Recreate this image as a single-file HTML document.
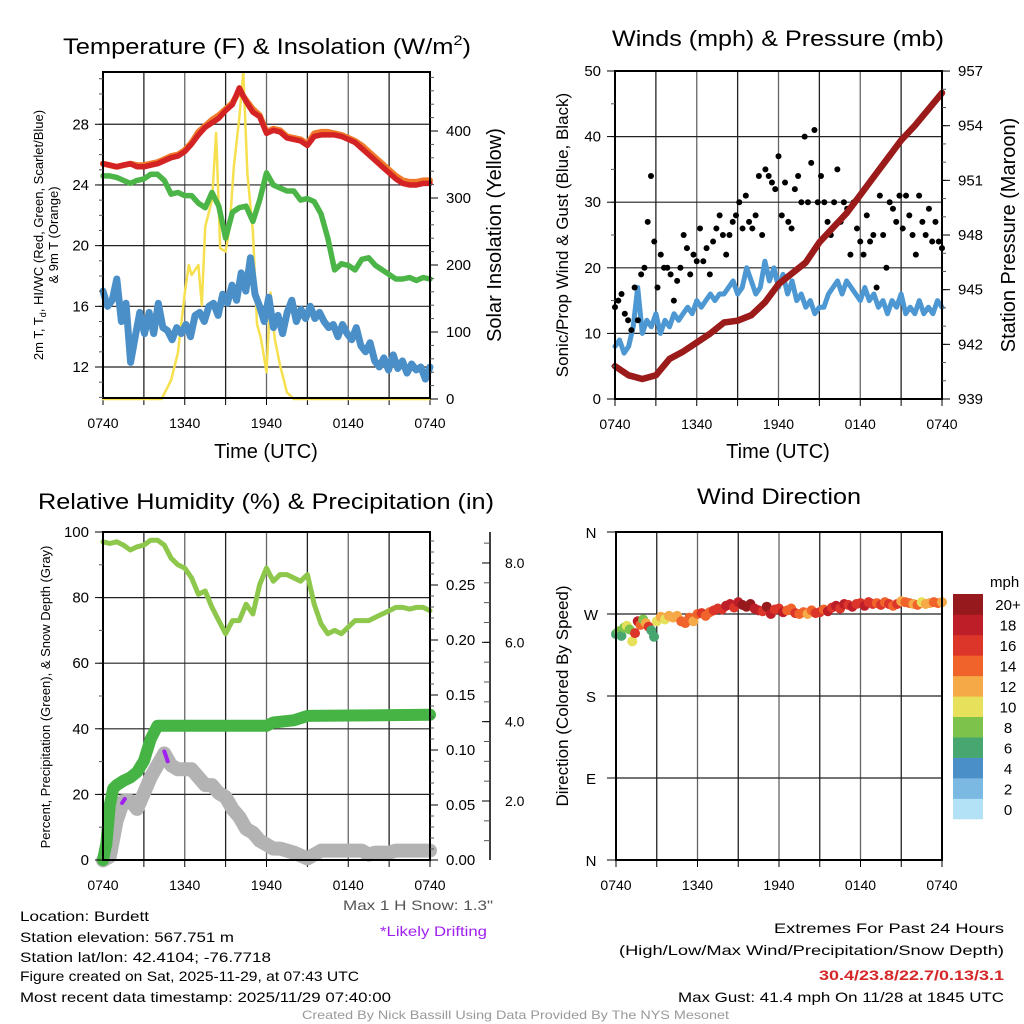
<!DOCTYPE html>
<html><head><meta charset="utf-8"><style>
html,body{margin:0;padding:0;background:#fff}
svg{display:block;font-family:"Liberation Sans",sans-serif}
</style></head><body>
<svg id="s" width="1024" height="1024" viewBox="0 0 1024 1024">
<rect width="1024" height="1024" fill="#fff"/>
<g id="g1"></g>
<g id="g2"></g>
<g id="g3"></g>
<g id="g4"></g>
<g id="txt" font-size="14">
<text x="20" y="921" textLength="129" lengthAdjust="spacingAndGlyphs">Location: Burdett</text>
<text x="20" y="942" textLength="214" lengthAdjust="spacingAndGlyphs">Station elevation: 567.751 m</text>
<text x="20" y="962" textLength="251" lengthAdjust="spacingAndGlyphs">Station lat/lon: 42.4104; -76.7718</text>
<text x="20" y="981" textLength="339" lengthAdjust="spacingAndGlyphs">Figure created on Sat, 2025-11-29, at 07:43 UTC</text>
<text x="20" y="1002" textLength="371" lengthAdjust="spacingAndGlyphs">Most recent data timestamp: 2025/11/29 07:40:00</text>
<text x="343" y="910" textLength="150" lengthAdjust="spacingAndGlyphs" fill="#555">Max 1 H Snow: 1.3"</text>
<text x="380" y="936" textLength="107" lengthAdjust="spacingAndGlyphs" fill="#a020f0">*Likely Drifting</text>
<text x="774" y="933" textLength="230" lengthAdjust="spacingAndGlyphs">Extremes For Past 24 Hours</text>
<text x="619" y="955" textLength="385" lengthAdjust="spacingAndGlyphs">(High/Low/Max Wind/Precipitation/Snow Depth)</text>
<text x="819" y="980" textLength="185" lengthAdjust="spacingAndGlyphs" fill="#d62728" font-weight="bold">30.4/23.8/22.7/0.13/3.1</text>
<text x="678" y="1002" textLength="326" lengthAdjust="spacingAndGlyphs">Max Gust: 41.4 mph On 11/28 at 1845 UTC</text>
<text x="302" y="1019" textLength="427" lengthAdjust="spacingAndGlyphs" font-size="12" fill="#999">Created By Nick Bassill Using Data Provided By The NYS Mesonet</text>
</g>
</svg>
<script>
// ---- data (hours since 0740 UTC) ----
const xTickLabels=["0740","1340","1940","0140","0740"];
const tempF=[25.4,25.3,25.2,25.3,25.4,25.2,25.2,25.3,25.4,25.6,25.8,25.9,26.2,26.7,27.3,27.8,28.1,28.4,28.9,29.3,30.4,29.5,28.8,28.5,27.4,27.6,27.5,27.1,27.0,26.9,26.6,27.2,27.3,27.3,27.3,27.2,27.0,26.8,26.4,26.0,25.6,25.2,24.8,24.4,24.1,24.0,24.0,24.1,24.1];
const temp9m=[25.4,25.3,25.2,25.3,25.4,25.3,25.3,25.4,25.5,25.7,25.9,26.0,26.3,26.8,27.5,27.9,28.3,28.6,29.0,29.4,30.2,29.6,29.0,28.6,27.5,27.7,27.6,27.2,27.1,27.0,26.7,27.4,27.5,27.5,27.4,27.3,27.1,26.9,26.6,26.2,25.8,25.4,25.0,24.6,24.3,24.2,24.2,24.3,24.3];
const dewpF=[24.6,24.6,24.5,24.3,24.1,24.3,24.4,24.7,24.7,24.3,23.4,23.5,23.3,23.3,22.8,22.5,23.5,22.6,20.5,22.2,22.5,22.6,21.6,23.0,24.8,24.0,23.8,23.6,23.6,23.0,23.1,22.9,22.1,20.5,18.4,18.8,18.7,18.4,19.1,19.2,18.7,18.4,18.1,17.8,17.8,17.9,17.7,17.9,17.8];
const windChill=[17.0,16.0,16.4,17.8,15.0,16.2,12.3,14.0,15.6,14.2,15.6,14.2,16.2,14.6,14.4,13.8,14.6,14.2,14.8,14.0,15.4,15.6,15.0,16.0,16.2,15.4,16.8,16.2,17.4,16.4,18.2,17.0,19.2,16.8,16.0,15.0,16.6,14.6,15.4,14.2,15.6,16.4,15.0,15.8,15.2,16.0,15.2,15.6,15.0,14.6,14.8,14.0,14.8,14.2,13.8,14.6,13.4,13.0,13.6,12.4,12.0,12.6,11.8,12.8,11.9,12.4,11.6,12.2,11.8,12.0,11.2,12.0];
const solarHours=[0,4.3,5,5.5,6,6.3,6.5,7,7.25,7.5,8,8.3,8.6,9,9.3,9.6,10,10.3,10.6,11,11.3,11.6,12,12.3,12.6,13,13.5,14,24];
const solarWm2=[0,0,28,69,158,200,185,200,140,257,297,397,225,220,257,346,420,488,336,250,112,90,40,159,90,50,10,0,0];
const pressureMb=[940.8,940.3,940.1,940.3,941.2,941.6,942.1,942.6,943.2,943.3,943.6,944.3,945.3,945.9,946.5,947.6,948.4,949.2,950.2,951.2,952.2,953.2,954.0,954.9,955.8];
const windMph=[8,9,7,8,11,17,10,12,11,13,10,12,11,13,12,13,14,13,15,14,15,16,15,16,16,17,18,16,17,20,18,16,17,21,18,20,17,19,16,18,15,16,14,15,13,14,14,16,17,18,16,18,17,16,15,17,15,16,14,15,13,15,14,16,13,14,13,15,13,14,13,15,14];
const gustMph=[14,15,16,13,12,10.5,17,12,19,20,27,34,24,17,22,20,20,19,15,18,20,25,23,19,22,21,26,21,23,19,24,26,28,25,22,25,27,28,30,26,31,27,26,28,34,25,35,34,33,32,37,28,33,27,26,32,34,30,40,30,36,41,30,34,30,27,25,30,35,27,30,29,22,30,26,24,22,28,24,25,17,31,25,20,30,29,27,31,26,31,28,25,22,31,27,25,29,24,27,24,23];
const rhPct=[97,96.5,97,96,94.5,95.5,96,97.5,97.5,96,92,90,89,86,81,82,77,73,69,73,73,78,75,84,89,85,87,87,86,85,87,78,72,69,70,69,71,73,73,73,74,75,76,77,77,76.5,77,77,76];
const precipHours=[0,0.25,0.5,0.75,1,1.5,2,2.5,3,3.5,4,4.5,12,12.5,14,15,24];
const precipIn=[0,0.015,0.05,0.065,0.068,0.072,0.075,0.08,0.09,0.11,0.122,0.122,0.122,0.125,0.127,0.131,0.132];
const snowHours=[0,0.5,1,1.5,2,2.5,3,3.5,4,4.5,5,5.5,6,6.5,7,7.5,8,8.5,9,9.5,10,10.5,11,11.5,12,12.5,13,14,15,15.5,16,17,18,19,19.5,20,21,21.5,24];
const snowIn=[0.5,0.6,1.5,2.0,2.0,1.8,2.2,2.6,2.9,3.2,2.9,2.8,2.8,2.8,2.6,2.4,2.4,2.2,2.1,1.8,1.6,1.3,1.2,1.0,0.9,0.8,0.8,0.7,0.55,0.65,0.75,0.75,0.75,0.75,0.65,0.7,0.7,0.75,0.75];
const dirHours=[0,0.2,0.4,0.6,0.8,1.0,1.2,1.4,1.6,1.8,2.0,2.2,2.4,2.6,2.8,3.0,3.3,3.6,3.9,4.2,4.5,4.8,5.1,5.4,5.7,6.0,6.3,6.6,6.9,7.2,7.5,7.8,8.1,8.4,8.7,9.0,9.3,9.6,9.9,10.2,10.5,10.8,11.1,11.4,11.7,12.0,12.3,12.6,12.9,13.2,13.5,13.8,14.1,14.4,14.7,15.0,15.3,15.6,15.9,16.2,16.5,16.8,17.1,17.4,17.7,18.0,18.3,18.6,18.9,19.2,19.5,19.8,20.1,20.4,20.7,21.0,21.3,21.6,21.9,22.2,22.5,22.8,23.1,23.4,23.7,24.0];
const dirDeg=[248,251,246,255,257,253,240,249,262,258,264,260,256,252,245,262,267,264,268,266,268,262,260,266,262,270,271,268,272,274,276,275,279,281,277,283,280,278,281,276,274,273,278,270,275,276,272,274,276,271,270,272,270,274,271,272,275,273,277,279,276,281,280,278,281,282,279,283,281,282,280,283,281,279,281,284,283,282,281,280,283,281,282,283,282,283];
const dirSpeed=[7,8,7,9,10,8,11,17,18,15,9,13,17,7,7,10,12,11,13,13,12,14,15,14,13,15,16,15,14,16,17,16,18,19,17,19,20,20,21,19,18,17,21,19,16,17,18,15,14,16,14,14,13,15,16,17,15,18,17,18,16,18,17,19,16,17,18,16,17,15,16,15,16,14,16,13,15,14,12,14,11,13,12,15,14,13];
const snowCols=["#b3e2f7","#7bb8e2","#4a8fc8","#48a670","#7dc24a","#e6e05a","#f6a947","#f0642c","#dc352a","#bd1e28","#961a1d"];
const cbLabels=["0","2","4","6","8","10","12","14","16","18","20+"];

const NS="http://www.w3.org/2000/svg";
function mk(parent,tag,attrs,text){const e=document.createElementNS(NS,tag);for(const k in attrs)e.setAttribute(k,attrs[k]);if(text!==undefined)e.textContent=text;parent.appendChild(e);return e;}
const even=(arr)=>arr.map((v,i)=>i*24/(arr.length-1));
function line(g,hs,vs,X,Y,color,w,name){
  const d=vs.map((v,i)=>(i?"L":"M")+X(hs[i]).toFixed(1)+","+Y(v).toFixed(1)).join("");
  const p=mk(g,"path",{d:d,fill:"none",stroke:color,"stroke-width":w,"stroke-linejoin":"round","stroke-linecap":"round"});
  
  
  return p;
}
function frame(g,x0,x1,y0,y1,hLines){
  const X=h=>x0+h*(x1-x0)/24;
  for(let k=0;k<=16;k++){const x=x0+k*(x1-x0)/16;if(k%2==0){const gl=mk(g,"line",{x1:x,x2:x,y1:y0,y2:y1,stroke:k%4==0?"#666":"#222","stroke-width":1.3});}}
  hLines.forEach(y=>{const gl=mk(g,"line",{x1:x0,x2:x1,y1:y,y2:y,stroke:"#222","stroke-width":1.2});});
  for(let k=0;k<=8;k++){const x=x0+k*(x1-x0)/8;mk(g,"line",{x1:x,x2:x,y1:y1,y2:y1+7,stroke:"#000"});}
  xTickLabels.forEach((t,i)=>{const e=mk(g,"text",{x:X(i*6),y:y1+30,"text-anchor":"middle","font-size":14},t);});
  return X;
}
function border(g,x0,x1,y0,y1){const r=mk(g,"rect",{x:x0,y:y0,width:x1-x0,height:y1-y0,fill:"none",stroke:"#000","stroke-width":2});}
function leftTicks(g,x0,vals,Y,labels,minor,fs){
  minor.forEach(v=>mk(g,"line",{x1:x0,x2:x0-4,y1:Y(v),y2:Y(v),stroke:"#555"}));
  vals.forEach((v,i)=>{mk(g,"line",{x1:x0,x2:x0-8,y1:Y(v),y2:Y(v),stroke:"#000"});const e=mk(g,"text",{x:x0-14,y:Y(v)+5,"text-anchor":"end","font-size":fs||15},labels[i]);});
}
function rightTicks(g,x1,vals,Y,labels,minor,fs){
  minor.forEach(v=>mk(g,"line",{x1:x1,x2:x1+4,y1:Y(v),y2:Y(v),stroke:"#555"}));
  vals.forEach((v,i)=>{mk(g,"line",{x1:x1,x2:x1+8,y1:Y(v),y2:Y(v),stroke:"#000"});const e=mk(g,"text",{x:x1+16,y:Y(v)+5,"text-anchor":"start","font-size":fs||15},labels[i]);});
}
function vtext(g,x,y,t,fs,name){const e=mk(g,"text",{x:0,y:0,transform:`translate(${x},${y}) rotate(-90)`,"text-anchor":"middle","font-size":fs},t);return e;}
function title(g,x,y,len,t,name){const e=mk(g,"text",{x:x,y:y,"font-size":22,textLength:len,lengthAdjust:"spacingAndGlyphs"},t);return e;}
const rng=(a,b,s)=>{const r=[];for(let v=a;v<=b+1e-9;v+=s)r.push(+v.toFixed(4));return r;};

// ---- Panel 1 ----
(function(){
const g=document.getElementById("g1");const x0=103,x1=430,y0=72,y1=398;
const Y=v=>367-(v-12)*15.17, YS=v=>399-v*0.67;
const X=frame(g,x0,x1,y0,y1,[12,16,20,24,28].map(Y));
line(g,solarHours,solarWm2,X,YS,"#f7e04f",2.5,"solar-insolation-line");
line(g,even(windChill),windChill,X,Y,"#4a8fc8",7,"wind-chill-line");
line(g,even(dewpF),dewpF,X,Y,"#4cb548",5.5,"dewpoint-line");
line(g,even(temp9m),temp9m,X,Y,"#f07a2a",6,"temp-9m-line");
line(g,even(tempF),tempF,X,Y,"#d42324",5.5,"temp-2m-line");
border(g,x0,x1,y0,y1);
leftTicks(g,x0,[12,16,20,24,28],Y,["12","16","20","24","28"],rng(10,31,1));
rightTicks(g,x1,[0,100,200,300,400],YS,["0","100","200","300","400"],rng(0,480,20));
const tt=mk(g,"text",{x:63,y:54,"font-size":22,textLength:408,lengthAdjust:"spacingAndGlyphs"});


tt.innerHTML='Temperature (F) &amp; Insolation (W/m<tspan font-size="14" dy="-9">2</tspan><tspan dy="9">)</tspan>';
const e=mk(g,"text",{x:266,y:458,"text-anchor":"middle","font-size":20},"Time (UTC)");
vtext(g,501,235,"Solar Insolation (Yellow)",20,"right-axis-title");
const t=vtext(g,43,235,"",13,"left-axis-title");
t.innerHTML='2m T, T<tspan font-size="9" dy="3">d</tspan><tspan dy="-3">, HI/WC (Red, Green, Scarlet/Blue)</tspan>';
vtext(g,58,235,"& 9m T (Orange)",13,"left-axis-title-2");
})();

// ---- Panel 2 ----
(function(){
const g=document.getElementById("g2");const x0=615,x1=942,y0=71,y1=399;
const Y=v=>399-v*6.56, YP=v=>399-(v-939)*18.22;
const X=frame(g,x0,x1,y0,y1,[10,20,30,40].map(Y));
line(g,even(windMph),windMph,X,Y,"#4d98d3",5,"wind-speed-line");
const gh=even(gustMph);
gustMph.forEach((v,i)=>{const c=mk(g,"circle",{cx:X(gh[i]),cy:Y(v),r:3,fill:"#000"});});
line(g,even(pressureMb),pressureMb,X,YP,"#9b1a1a",6.5,"pressure-line");
border(g,x0,x1,y0,y1);
leftTicks(g,x0,[0,10,20,30,40,50],Y,["0","10","20","30","40","50"],rng(0,50,5));
rightTicks(g,x1,[939,942,945,948,951,954,957],YP,["939","942","945","948","951","954","957"],rng(939,957,1));
title(g,612,46,332,"Winds (mph) & Pressure (mb)","panel-title");
const e=mk(g,"text",{x:778,y:458,"text-anchor":"middle","font-size":20},"Time (UTC)");
vtext(g,568,235,"Sonic/Prop Wind & Gust (Blue, Black)",17,"left-axis-title");
vtext(g,1015,235,"Station Pressure (Maroon)",20,"right-axis-title");
})();

// ---- Panel 3 ----
(function(){
const g=document.getElementById("g3");const x0=103,x1=430,y0=532,y1=860;
const Y=v=>860-v*3.28, YP=v=>860-v*1100, YS=v=>801-(v-2)*39.67;
const X=frame(g,x0,x1,y0,y1,[20,40,60,80,100].map(Y));
line(g,snowHours,snowIn,X,YS,"#b3b3b3",14,"snow-depth-line");
line(g,precipHours,precipIn,X,YP,"#45b444",12,"precip-line");
line(g,even(rhPct),rhPct,X,Y,"#8dc84c",5,"rh-line");
const p1=mk(g,"line",{x1:X(1.4),y1:YS(1.95),x2:X(1.6),y2:YS(2.05),stroke:"#a020f0","stroke-width":4,"stroke-linecap":"round"});
const p2=mk(g,"line",{x1:X(4.5),y1:YS(3.25),x2:X(4.75),y2:YS(3.0),stroke:"#a020f0","stroke-width":4,"stroke-linecap":"round"});
border(g,x0,x1,y0,y1);
leftTicks(g,x0,[0,20,40,60,80,100],Y,["0","20","40","60","80","100"],rng(0,100,10));
rightTicks(g,x1,[0,0.05,0.1,0.15,0.2,0.25],YP,["0.00","0.05","0.10","0.15","0.20","0.25"],rng(0,0.29,0.01));
mk(g,"line",{x1:490,x2:490,y1:532,y2:860,stroke:"#000","stroke-width":1.5});
rng(1,8.5,0.5).forEach(v=>mk(g,"line",{x1:490,x2:484,y1:YS(v),y2:YS(v),stroke:"#555"}));
[2,4,6,8].forEach(v=>{mk(g,"line",{x1:490,x2:482,y1:YS(v),y2:YS(v),stroke:"#000"});const e=mk(g,"text",{x:505,y:YS(v)+5,"font-size":14},v.toFixed(1));});
title(g,38,509,456,"Relative Humidity (%) & Precipitation (in)","panel-title");
vtext(g,50,697,"Percent, Precipitation (Green), & Snow Depth (Gray)",13,"left-axis-title");
})();

// ---- Panel 4 ----
(function(){
const g=document.getElementById("g4");const x0=616,x1=942,y0=532,y1=860;
const Y=d=>860-d*(328/360);
const X=frame(g,x0,x1,y0,y1,[0,90,180,270,360].map(Y));
dirDeg.forEach((d,i)=>{const k=Math.max(0,Math.min(10,Math.floor(dirSpeed[i]/2)));const c=mk(g,"circle",{cx:X(dirHours[i]),cy:Y(d),r:5,fill:snowCols[k]});});
border(g,x0,x1,y0,y1);
[[0,"N"],[90,"E"],[180,"S"],[270,"W"],[360,"N"]].forEach(([d,t])=>{mk(g,"line",{x1:x0,x2:x0-9,y1:Y(d),y2:Y(d),stroke:"#000"});const e=mk(g,"text",{x:591,y:Y(d)+6,"text-anchor":"middle","font-size":15},t);});
title(g,697,504,164,"Wind Direction","panel-title");
vtext(g,568,696,"Direction (Colored By Speed)",17,"left-axis-title");
const cb=mk(g,"g",{});
const bh=(819-594)/11;
snowCols.forEach((c,i)=>{mk(cb,"rect",{x:953,y:819-(i+1)*bh,width:30,height:bh+0.3,fill:c});mk(cb,"text",{x:1008,y:819-(i+0.5)*bh+6,"text-anchor":"middle","font-size":15},cbLabels[i]);});
mk(cb,"text",{x:990,y:587,"font-size":15},"mph");
})();
</script>
</body></html>
